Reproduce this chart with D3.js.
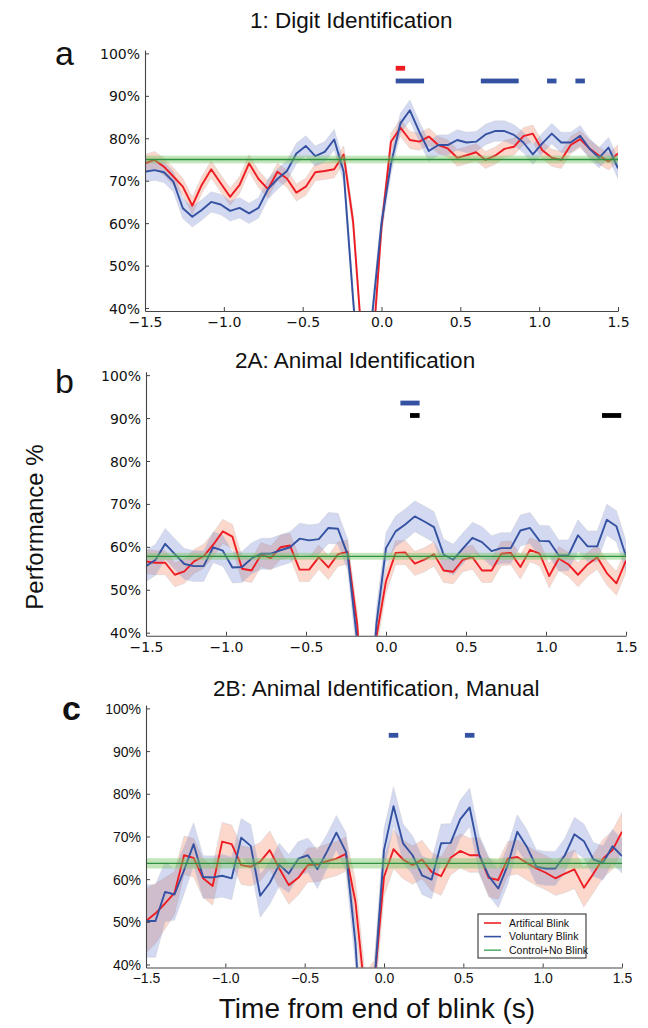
<!DOCTYPE html>
<html>
<head>
<meta charset="utf-8">
<script src="https://cdn.jsdelivr.net/npm/d3@7"></script>
<style>
  body { margin: 0; background: #fff; }
  svg text { fill: #111; }
</style>
</head>
<body>
<div id="chart"></div>
<script>
// tempo dalla fine del blink (s), passo 0.06
const time = [-1.50,-1.44,-1.38,-1.32,-1.26,-1.20,-1.14,-1.08,-1.02,-0.96,-0.90,-0.84,-0.78,-0.72,-0.66,-0.60,-0.54,-0.48,-0.42,-0.36,-0.30,-0.24,-0.18,-0.12,-0.06,
  0.00,0.06,0.12,0.18,0.24,0.30,0.36,0.42,0.48,0.54,0.60,0.66,0.72,0.78,0.84,0.90,0.96,1.02,1.08,1.14,1.20,1.26,1.32,1.38,1.44,1.50];

const xTicks = [-1.5, -1.0, -0.5, 0.0, 0.5, 1.0, 1.5];
const yTicks = [40, 50, 60, 70, 80, 90, 100];

// 1: Digit Identification
const redA = [74.1,74.9,73.3,71.0,68.6,64.1,69.0,72.7,69.4,66.2,69.0,74.1,70.4,68.0,72.1,70.5,67.2,68.6,72.0,72.3,72.7,76.2,60.3,30,28,
  59,79.2,82.5,79.6,79.2,80.4,78.4,77.6,75.4,76.0,76.7,74.9,75.9,77.5,78.0,80.5,81.1,77.2,75.4,74.9,78.4,79.8,77.6,75.9,74.5,76.4];
const blueA = [72.1,72.5,72.0,69.8,63.5,61.5,63.1,65.0,64.4,62.9,63.6,62.3,63.6,68.0,70.4,72.3,76.4,78.2,75.8,76.8,79.7,72.1,42,15,38,
  60,74.0,83.5,86.6,81.5,77.0,78.4,78.4,79.6,79.0,79.2,80.9,81.7,81.7,80.8,79.0,76.2,78.8,81.1,79.0,79.0,80.6,77.5,75.4,77.8,72.9];
const seRedA = 2.0;
const seBlueA = 2.4;

// 2A: Animal Identification
const redB = [56.6,56.3,56.3,53.5,54.3,56.6,57.8,60.5,63.6,62.4,54.9,54.5,58.2,57.4,59.9,60.3,54.7,54.7,57.6,55.2,58.3,58.8,42,12,39,
  52,58.6,58.7,56.1,57.0,58.3,54.5,54.2,57.0,57.6,54.5,54.5,58.4,58.6,55.3,59.3,58.4,53.2,57.3,55.9,53.5,55.9,57.6,53.9,51.5,56.8];
const blueB = [55.5,57.0,60.7,58.3,56.0,55.5,55.5,59.9,59.1,55.2,55.3,57.3,58.4,58.4,59.2,59.9,61.9,61.5,61.8,64.4,64.2,58.2,38,10,42,
  59.7,63.6,65.2,67.1,65.9,64.6,58.2,57.0,59.6,62.1,61.1,59.0,59.7,59.7,63.8,64.4,61.4,61.3,58.0,58.0,62.7,60.1,60.1,66.3,64.8,57.8];
const seRedB = 2.8;
const seBlueB = 3.6;

// 2B: Animal Identification, Manual
const redC = [50.2,52.0,54.3,56.8,65.6,65.0,60.2,58.4,68.8,68.2,63.3,62.9,64.1,66.8,62.5,58.6,60.3,63.3,63.4,64.2,64.8,65.9,54.7,33,36,
  60.5,67.0,64.6,63.3,64.6,61.7,60.7,65.0,66.6,65.6,65.6,60.3,59.8,64.8,65.2,63.8,62.5,61.5,60.2,61.3,62.3,58.0,61.3,64.8,66.8,71.1];
const blueC = [50.2,50.2,57.0,56.4,62.1,68.2,60.5,60.4,60.8,60.2,69.7,67.8,56.1,59.1,63.4,61.3,64.8,65.6,62.3,66.4,70.9,66.4,45,10,36,
  66.8,77.1,68.4,65.6,60.9,59.9,68.4,68.5,74.0,76.8,65.8,60.7,57.8,63.3,71.1,67.6,62.9,62.5,62.5,65.6,70.5,68.9,64.6,63.8,67.7,65.4];
const seRedC = [7.5,7,6,5,4.5,4.5,4.5,4.5,4.5,4.5,4.5,4.5,4.5,4.5,4.5,4.5,4,4,4,4,4,4,5,5,5,
  4.5,4.5,4.5,4.5,4.5,4.5,4.5,4,4,4,4,4.5,4.5,4,4,4,4,4,4,4.5,4.5,4.5,4.5,4.5,4.5,4.5];
const seBlueC = [8.5,8.5,7,6,5.5,5,5,5,5,5,4.5,5,5,5,5,4.5,4,4,4.5,4,4,4.5,5,5,5,
  5,4.5,4.5,4.5,4.5,4.5,4.5,4.5,4.5,4.5,4.5,4.5,4.5,4.5,4,4,4,4,4,4,4,4,4,4,4,4];

// controllo (no blink): media e SE
const ctrlMean = [75.0, 57.8, 63.7];
const ctrlSe = [0.9, 0.8, 1.2];

// intervalli significativi [t0, t1] e livello (%)
const sigA = [
  { color: 'red', level: 96.5, spans: [[0.09, 0.15]] },
  { color: 'blue', level: 93.5, spans: [[0.09, 0.27], [0.63, 0.87], [1.05, 1.11], [1.23, 1.29]] }
];
const sigB = [
  { color: 'blue', level: 93.5, spans: [[0.09, 0.21]] },
  { color: 'black', level: 90.6, spans: [[0.15, 0.21], [1.35, 1.47]] }
];
const sigC = [
  { color: 'blue', level: 93.7, spans: [[0.03, 0.09], [0.51, 0.57]] }
];

const legendLabels = ['Artifical Blink', 'Voluntary Blink', 'Control+No Blink'];

const COLORS = {
  red: '#ee1d24', blue: '#3451a2', green: '#2f9140', black: '#000',
  redBand: 'rgba(244,150,120,0.38)', blueBand: 'rgba(110,130,205,0.30)', greenBand: 'rgba(120,200,100,0.45)'
};

const panels = [
  { letter: 'a', title: '1: Digit Identification', red: redA, blue: blueA, seRed: seRedA, seBlue: seBlueA,
    ctrl: 0, sig: sigA, font: 'DejaVu Sans', tickSize: 14,
    box: { x0: 145, x1: 618, top: 50, bottom: 311 }, titleX: 250, titleY: 28, letterX: 55, letterY: 65, legend: false },
  { letter: 'b', title: '2A: Animal Identification', red: redB, blue: blueB, seRed: seRedB, seBlue: seBlueB,
    ctrl: 1, sig: sigB, font: 'DejaVu Sans', tickSize: 14,
    box: { x0: 146, x1: 626, top: 371.7, bottom: 635.7 }, titleX: 235, titleY: 368, letterX: 55, letterY: 393, legend: false },
  { letter: 'c', title: '2B: Animal Identification, Manual', red: redC, blue: blueC, seRed: seRedC, seBlue: seBlueC,
    ctrl: 2, sig: sigC, font: 'Liberation Sans', tickSize: 14,
    box: { x0: 146, x1: 622, top: 705, bottom: 967.5 }, titleX: 213, titleY: 696, letterX: 62, letterY: 720, legend: true }
];

const W = 648, H = 1028;
const svg = d3.select('#chart').append('svg')
  .attr('width', W).attr('height', H)
  .style('font-family', 'Liberation Sans, Arial, sans-serif');

const seAt = (se, i) => Array.isArray(se) ? se[i] : se;

panels.forEach((p, pi) => {
  const b = p.box;
  const x = d3.scaleLinear().domain([-1.5, 1.5]).range([b.x0, b.x1]);
  const y = d3.scaleLinear().domain([39.3, 100.8]).range([b.bottom, b.top]);

  const g = svg.append('g');

  const clipId = `clip-${p.letter}`;
  svg.append('clipPath').attr('id', clipId)
    .append('rect')
    .attr('x', b.x0).attr('y', b.top)
    .attr('width', b.x1 - b.x0).attr('height', b.bottom - b.top);

  const plot = g.append('g').attr('clip-path', `url(#${clipId})`);

  const idx = d3.range(time.length);
  const band = (vals, se) => d3.area()
    .x(i => x(time[i]))
    .y0(i => y(vals[i] - seAt(se, i)))
    .y1(i => y(vals[i] + seAt(se, i)));
  const line = vals => d3.line().x(i => x(time[i])).y(i => y(vals[i]));

  // bande errore
  plot.append('path').datum(idx).attr('d', band(p.red, p.seRed))
    .attr('fill', COLORS.redBand).attr('stroke', 'rgba(200,200,200,0.5)').attr('stroke-width', 0.8);
  plot.append('path').datum(idx).attr('d', band(p.blue, p.seBlue))
    .attr('fill', COLORS.blueBand).attr('stroke', 'rgba(200,200,210,0.5)').attr('stroke-width', 0.8);

  // linee
  plot.append('path').datum(idx).attr('d', line(p.red))
    .attr('fill', 'none').attr('stroke', COLORS.red).attr('stroke-width', 1.9).attr('stroke-linejoin', 'round');
  plot.append('path').datum(idx).attr('d', line(p.blue))
    .attr('fill', 'none').attr('stroke', COLORS.blue).attr('stroke-width', 1.9).attr('stroke-linejoin', 'round');

  // controllo
  const cm = ctrlMean[p.ctrl], cs = ctrlSe[p.ctrl];
  plot.append('rect')
    .attr('x', x(-1.5)).attr('width', x(1.5) - x(-1.5))
    .attr('y', y(cm + cs)).attr('height', y(cm - cs) - y(cm + cs))
    .attr('fill', COLORS.greenBand);
  plot.append('line')
    .attr('x1', x(-1.5)).attr('x2', x(1.5))
    .attr('y1', y(cm)).attr('y2', y(cm))
    .attr('stroke', COLORS.green).attr('stroke-width', 1.3);

  // barre di significatività
  p.sig.forEach(s => {
    g.selectAll(null)
      .data(s.spans)
      .join('rect')
      .attr('x', d => x(d[0]))
      .attr('width', d => x(d[1]) - x(d[0]))
      .attr('y', y(s.level) - 2.4)
      .attr('height', 4.8)
      .attr('fill', COLORS[s.color]);
  });

  // assi (tick verso l'interno)
  const ax = g.append('g')
    .attr('transform', `translate(0,${b.bottom})`)
    .call(d3.axisBottom(x).tickValues(xTicks).tickSizeInner(-4).tickSizeOuter(0).tickPadding(6)
      .tickFormat(d3.format('.1f')));
  const ay = g.append('g')
    .attr('transform', `translate(${b.x0},0)`)
    .call(d3.axisLeft(y).tickValues(yTicks).tickSizeInner(-4).tickSizeOuter(0).tickPadding(5)
      .tickFormat(d => d + '%'));

  [ax, ay].forEach(a => {
    a.select('.domain').attr('stroke', '#444').attr('stroke-width', 1.1);
    a.selectAll('.tick line').attr('stroke', '#444');
    a.selectAll('.tick text')
      .attr('font-family', p.font)
      .attr('font-size', p.tickSize)
      .attr('fill', '#111');
  });
  ay.selectAll('.tick text').attr('dy', '0.36em');

  // titolo e lettera
  g.append('text')
    .attr('x', p.titleX).attr('y', p.titleY)
    .attr('font-size', 22.5)
    .text(p.title);
  g.append('text')
    .attr('x', p.letterX).attr('y', p.letterY)
    .attr('font-size', 34)
    .attr('font-weight', p.letter === 'c' ? 'bold' : 'normal')
    .text(p.letter);

  // legenda
  if (p.legend) {
    const lg = g.append('g').attr('transform', 'translate(478,914)');
    lg.append('rect')
      .attr('width', 108).attr('height', 44)
      .attr('fill', '#fff').attr('stroke', '#333').attr('stroke-width', 1.1);
    const lc = [COLORS.red, COLORS.blue, '#5bb070'];
    lg.selectAll('.legend-item')
      .data(legendLabels)
      .join('g')
      .attr('class', 'legend-item')
      .attr('transform', (d, i) => `translate(0, ${9 + i * 13.6})`)
      .each(function(d, i) {
        const it = d3.select(this);
        it.append('line')
          .attr('x1', 6).attr('x2', 23)
          .attr('stroke', lc[i]).attr('stroke-width', 1.6);
        it.append('text')
          .attr('x', 31).attr('y', 3.8)
          .attr('font-size', 10.5)
          .text(d);
      });
  }
});

// etichette assi comuni
svg.append('text')
  .attr('transform', 'translate(43,527) rotate(-90)')
  .attr('text-anchor', 'middle')
  .attr('font-size', 24)
  .text('Performance %');

svg.append('text')
  .attr('x', 377).attr('y', 1018)
  .attr('text-anchor', 'middle')
  .attr('font-size', 28)
  .text('Time from end of blink (s)');
</script>
</body>
</html>
